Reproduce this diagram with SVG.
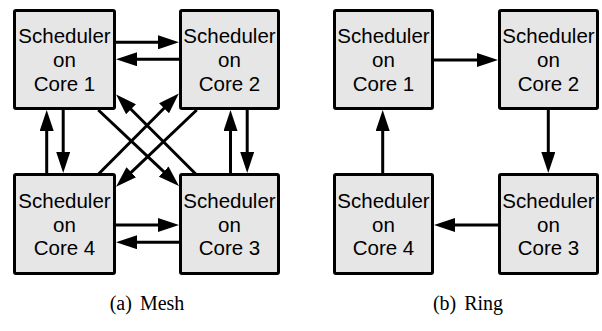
<svg xmlns="http://www.w3.org/2000/svg" width="602" height="331" viewBox="0 0 602 331">
<style>
.box{fill:#e6e6e6;stroke:#000;stroke-width:3}
.lbl{font-family:"Liberation Sans",Arial,sans-serif;font-size:20.5px;text-anchor:middle;fill:#000}
.cap{font-family:"Liberation Serif","Times New Roman",serif;font-size:20px;text-anchor:middle;fill:#000}
.ar{stroke:#000;stroke-width:3;fill:none;marker-end:url(#ah)}
</style>
<defs>
<marker id="ah" viewBox="0 0 21 14" refX="11" refY="7" markerWidth="21" markerHeight="14" markerUnits="userSpaceOnUse" orient="auto">
<path d="M0,0 L21,7 L0,14 z" fill="#000"/>
</marker>
</defs>
<g id="mesh-core1"><rect class="box" x="14.5" y="10.5" width="100" height="98" rx="1.5"/>
<text class="lbl" x="64.5" y="43.3">Scheduler</text><text class="lbl" x="64.5" y="67">on</text><text class="lbl" x="64.5" y="90.7">Core 1</text></g>
<g id="mesh-core2"><rect class="box" x="180.5" y="10.5" width="98" height="98" rx="1.5"/>
<text class="lbl" x="229.5" y="43.3">Scheduler</text><text class="lbl" x="229.5" y="67">on</text><text class="lbl" x="229.5" y="90.7">Core 2</text></g>
<g id="mesh-core4"><rect class="box" x="14.5" y="174.5" width="100" height="99" rx="1.5"/>
<text class="lbl" x="64.5" y="208">Scheduler</text><text class="lbl" x="64.5" y="231.7">on</text><text class="lbl" x="64.5" y="255.4">Core 4</text></g>
<g id="mesh-core3"><rect class="box" x="180.5" y="174.5" width="98" height="99" rx="1.5"/>
<text class="lbl" x="229.5" y="208">Scheduler</text><text class="lbl" x="229.5" y="231.7">on</text><text class="lbl" x="229.5" y="255.4">Core 3</text></g>
<g id="ring-core1"><rect class="box" x="334.5" y="10.5" width="98" height="98" rx="1.5"/>
<text class="lbl" x="383.5" y="43.3">Scheduler</text><text class="lbl" x="383.5" y="67">on</text><text class="lbl" x="383.5" y="90.7">Core 1</text></g>
<g id="ring-core2"><rect class="box" x="499.5" y="10.5" width="98" height="98" rx="1.5"/>
<text class="lbl" x="548.5" y="43.3">Scheduler</text><text class="lbl" x="548.5" y="67">on</text><text class="lbl" x="548.5" y="90.7">Core 2</text></g>
<g id="ring-core4"><rect class="box" x="334.5" y="174.5" width="98" height="99" rx="1.5"/>
<text class="lbl" x="383.5" y="208">Scheduler</text><text class="lbl" x="383.5" y="231.7">on</text><text class="lbl" x="383.5" y="255.4">Core 4</text></g>
<g id="ring-core3"><rect class="box" x="499.5" y="174.5" width="98" height="99" rx="1.5"/>
<text class="lbl" x="548.5" y="208">Scheduler</text><text class="lbl" x="548.5" y="231.7">on</text><text class="lbl" x="548.5" y="255.4">Core 3</text></g>
<g id="connectors">
<line class="ar" x1="116" y1="42.3" x2="169" y2="42.3"/>
<line class="ar" x1="179" y1="59.2" x2="126" y2="59.2"/>
<line class="ar" x1="63.2" y1="110" x2="63.2" y2="163"/>
<line class="ar" x1="46.7" y1="173" x2="46.7" y2="120"/>
<line class="ar" x1="247.2" y1="110" x2="247.2" y2="163"/>
<line class="ar" x1="230.5" y1="173" x2="230.5" y2="120"/>
<line class="ar" x1="116" y1="225" x2="169" y2="225"/>
<line class="ar" x1="179" y1="242.2" x2="126" y2="242.2"/>
<line class="ar" x1="98.3" y1="110" x2="171.7" y2="179.1"/>
<line class="ar" x1="196.7" y1="175" x2="123.2" y2="101.5"/>
<line class="ar" x1="98.3" y1="174.3" x2="171.8" y2="100.5"/>
<line class="ar" x1="196.7" y1="110" x2="123.3" y2="179.8"/>
<line class="ar" x1="434" y1="60" x2="488" y2="60"/>
<line class="ar" x1="548.3" y1="110" x2="548.3" y2="163"/>
<line class="ar" x1="498" y1="225" x2="444" y2="225"/>
<line class="ar" x1="382.7" y1="173" x2="382.7" y2="120"/>
</g>
<text class="cap" x="147" y="310">(a)<tspan dx="8">Mesh</tspan></text>
<text class="cap" x="468" y="310">(b)<tspan dx="8">Ring</tspan></text>
</svg>
